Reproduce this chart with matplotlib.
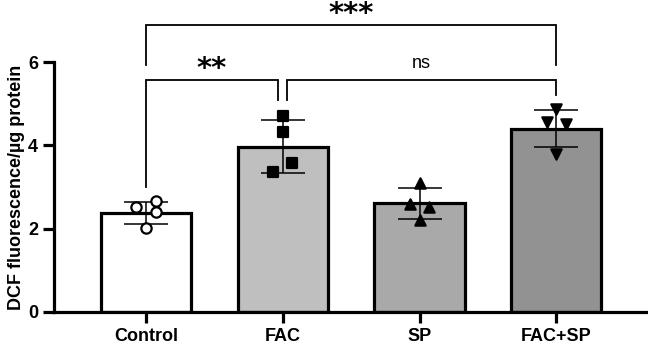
import numpy as np
import matplotlib
matplotlib.use("Agg")
import matplotlib.pyplot as plt

plt.rcParams['font.family'] = ['Liberation Sans', 'DejaVu Sans']

# data
groups = ["Control", "FAC", "SP", "FAC+SP"]
means = [2.38, 3.97, 2.61, 4.40]
sds = [0.27, 0.63, 0.37, 0.45]
points = [
    [2.52, 2.66, 2.40, 2.02],
    [4.70, 4.33, 3.57, 3.36],
    [3.09, 2.59, 2.52, 2.21],
    [4.87, 4.56, 4.51, 3.79],
]
jitter = [
    [-0.07, 0.07, 0.07, 0.0],
    [0.0, 0.0, 0.07, -0.07],
    [0.0, -0.07, 0.07, 0.0],
    [0.0, -0.07, 0.07, 0.0],
]
colors = ["#ffffff", "#bfbfbf", "#a9a9a9", "#929292"]
markers = ["o", "s", "^", "v"]
facecol = ["white", "black", "black", "black"]

# significance brackets: x1, x2, height, left leg bottom, right leg bottom, label
brackets = [
    (0.0, 0.965, 5.57, 3.0, 5.09, "**"),
    (1.03, 3.0, 5.57, 5.09, 5.21, "ns"),
    (0.0, 3.0, 6.89, 5.93, 5.93, "***"),
]

fig = plt.figure(figsize=(6.48, 3.47), dpi=100)
ax = fig.add_axes([0.0833, 0.1009, 0.9155, 0.8991])

x = np.arange(len(groups))
ax.bar(x, means, width=0.66, color=colors, edgecolor="black", linewidth=2.3, zorder=2)
ax.errorbar(x, means, yerr=sds, fmt="none", ecolor="black", elinewidth=1.1,
            capsize=16, capthick=1.1, zorder=3)
for i in range(len(groups)):
    ax.scatter(x[i] + np.array(jitter[i]), points[i], marker=markers[i], s=55,
               facecolors=facecol[i], edgecolors="black", linewidths=1.6, zorder=4)

for x1, x2, h, b1, b2, lab in brackets:
    ax.plot([x1, x1, x2, x2], [b1, h, h, b2], color="black", lw=1.3,
            solid_joinstyle="miter", clip_on=False, zorder=5)
    if lab == "ns":
        ax.text((x1 + x2) / 2, h + 0.18, lab, ha="center", va="bottom",
                fontsize=13)
    else:
        # DejaVu asterisks sit high in the em box, so anchor on the baseline
        ax.text((x1 + x2) / 2, h + 0.08, lab, ha="center", va="baseline",
                fontsize=21, fontweight="bold", family="DejaVu Sans")

ax.set_xlim(-0.673, 3.665)
ax.set_ylim(0, 7.49)
ax.set_yticks([0, 2, 4, 6])
ax.set_xticks(x)
ax.set_xticklabels(groups)
for s in ["top", "right"]:
    ax.spines[s].set_visible(False)
ax.spines["left"].set_bounds(0, 6)
for s in ["left", "bottom"]:
    ax.spines[s].set_linewidth(2.3)
ax.tick_params(axis="both", width=2.3, length=8, labelsize=13)
for lbl in ax.get_xticklabels() + ax.get_yticklabels():
    lbl.set_fontweight("bold")
ax.set_ylabel("DCF fluorescence/µg protein", fontsize=13, fontweight="bold")
ax.yaxis.set_label_coords(-0.049, 3 / 7.49)

fig.savefig("out.png", dpi=100)
